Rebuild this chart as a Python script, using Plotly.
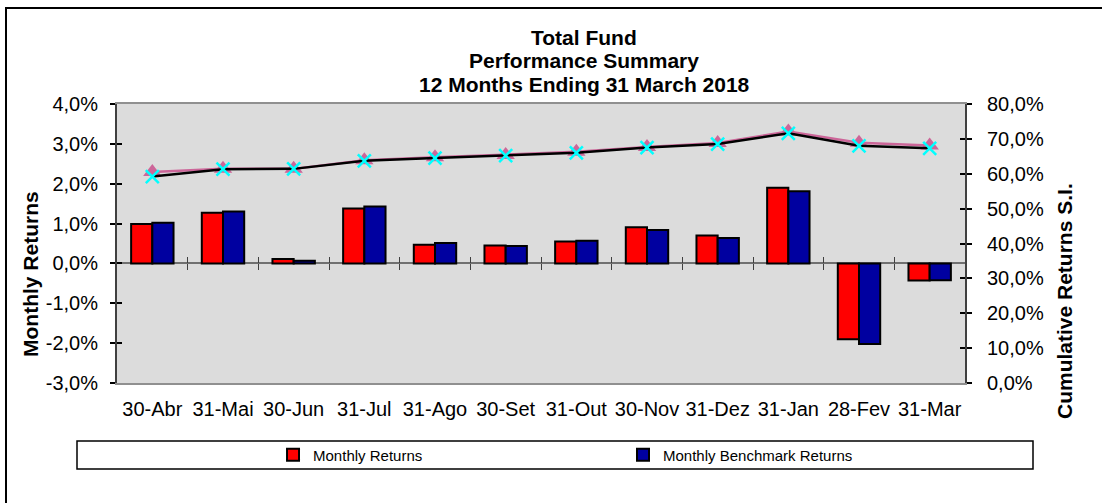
import plotly.graph_objects as go

categories = ["30-Abr", "31-Mai", "30-Jun", "31-Jul", "31-Ago", "30-Set",
              "31-Out", "30-Nov", "31-Dez", "31-Jan", "28-Fev", "31-Mar"]
monthly_returns = [0.99, 1.27, 0.11, 1.38, 0.47, 0.45, 0.55, 0.91, 0.70, 1.90, -1.90, -0.43]
benchmark_returns = [1.02, 1.30, 0.07, 1.43, 0.51, 0.44, 0.57, 0.84, 0.64, 1.81, -2.02, -0.42]
cumulative_fund = [60.5, 61.4, 61.4, 63.9, 64.7, 65.4, 66.3, 67.7, 68.8, 72.1, 68.9, 68.1]
cumulative_bench = [59.2, 61.3, 61.4, 63.7, 64.5, 65.2, 66.0, 67.5, 68.5, 71.6, 68.0, 67.3]

left_ticks = [-3, -2, -1, 0, 1, 2, 3, 4]
left_labels = ["-3,0%", "-2,0%", "-1,0%", "0,0%", "1,0%", "2,0%", "3,0%", "4,0%"]
right_ticks = [0, 10, 20, 30, 40, 50, 60, 70, 80]
right_labels = ["0,0%", "10,0%", "20,0%", "30,0%", "40,0%", "50,0%", "60,0%", "70,0%", "80,0%"]
title_lines = ["Total Fund", "Performance Summary", "12 Months Ending 31 March 2018"]

FONT = "Liberation Sans, Arial, sans-serif"

fig = go.Figure()
fig.add_trace(go.Bar(x=categories, y=monthly_returns, name="Monthly Returns",
                     marker=dict(color="#FF0000", line=dict(color="black", width=2)),
                     legend="legend", yaxis="y"))
fig.add_trace(go.Bar(x=categories, y=benchmark_returns, name="Monthly Benchmark Returns",
                     marker=dict(color="#0000A0", line=dict(color="black", width=2)),
                     legend="legend2", yaxis="y"))
fig.add_trace(go.Scatter(x=categories, y=cumulative_fund, yaxis="y2", mode="lines+markers",
                         line=dict(color="#CC6699", width=2.5),
                         marker=dict(symbol="triangle-up", size=16, color="#CC6699"),
                         showlegend=False))
fig.add_trace(go.Scatter(x=categories, y=cumulative_bench, yaxis="y2", mode="lines+markers",
                         line=dict(color="black", width=2.5),
                         marker=dict(symbol="x-thin", size=13, line=dict(color="#00FFFF", width=2.5)),
                         showlegend=False))
# empty helper traces so the tick-only overlay axes are rendered
for xa, ya in [("x2", "y"), ("x3", "y"), ("x", "y3"), ("x", "y4")]:
    fig.add_trace(go.Scatter(x=[], y=[], xaxis=xa, yaxis=ya, mode="markers",
                             showlegend=False, hoverinfo="skip"))

n = len(categories)
boundaries = [i + 0.5 for i in range(n - 1)]
zero_pos = (0 - left_ticks[0]) / (left_ticks[-1] - left_ticks[0])

tickfont = dict(family=FONT, size=20, color="black")

fig.update_layout(
    width=1102, height=503,
    margin=dict(l=117, r=137, t=104, b=120),
    paper_bgcolor="white", plot_bgcolor="#DCDCDC",
    barmode="group", bargap=0.4, bargroupgap=0,
    font=dict(family=FONT, color="black"),
    xaxis=dict(type="category", range=[-0.5, n - 0.5], tickangle=0, ticks="", tickfont=tickfont,
               showline=True, linecolor="#909090", linewidth=2, mirror=True,
               showgrid=False, ticklabelstandoff=7),
    xaxis2=dict(overlaying="x", anchor="free", position=zero_pos, range=[-0.5, n - 0.5],
                tickvals=boundaries, ticks="outside", ticklen=6, tickwidth=1.2, tickcolor="#404040",
                showticklabels=False, showgrid=False, zeroline=False, showline=False),
    xaxis3=dict(overlaying="x", anchor="free", position=zero_pos, range=[-0.5, n - 0.5],
                tickvals=boundaries, ticks="inside", ticklen=6, tickwidth=1.2, tickcolor="#404040",
                showticklabels=False, showgrid=False, zeroline=False, showline=False),
    yaxis=dict(range=[left_ticks[0], left_ticks[-1]], tickvals=left_ticks, ticktext=left_labels,
               ticks="outside", ticklen=5, tickwidth=1.5, tickcolor="black", tickfont=tickfont,
               showline=True, linecolor="#404040", linewidth=2, showgrid=False,
               zeroline=True, zerolinecolor="#707070", zerolinewidth=2, ticklabelstandoff=8),
    yaxis2=dict(overlaying="y", side="right", range=[right_ticks[0], right_ticks[-1]],
                tickvals=right_ticks, ticktext=right_labels,
                ticks="outside", ticklen=5, tickwidth=1.5, tickcolor="black", tickfont=tickfont,
                showline=True, linecolor="#404040", linewidth=2, showgrid=False, zeroline=False,
                ticklabelstandoff=11),
    yaxis3=dict(overlaying="y", side="left", anchor="x", range=[left_ticks[0], left_ticks[-1]],
                tickvals=left_ticks, ticks="inside", ticklen=5, tickwidth=1.5, tickcolor="black",
                showticklabels=False, showgrid=False, zeroline=False, showline=False),
    yaxis4=dict(overlaying="y", side="right", anchor="x", range=[right_ticks[0], right_ticks[-1]],
                tickvals=right_ticks, ticks="inside", ticklen=5, tickwidth=1.5, tickcolor="black",
                showticklabels=False, showgrid=False, zeroline=False, showline=False),
    legend=dict(orientation="h", x=0.184, y=-0.258, xanchor="left", yanchor="middle",
                bgcolor="rgba(0,0,0,0)", font=dict(family=FONT, size=15, color="black")),
    legend2=dict(orientation="h", x=0.5967, y=-0.258, xanchor="left", yanchor="middle",
                 bgcolor="rgba(0,0,0,0)", font=dict(family=FONT, size=15, color="black")),
    showlegend=True,
)

# legend frame and outer chart border
fig.add_shape(type="rect", xref="paper", yref="paper",
              x0=(77 - 117) / 848, x1=(1033 - 117) / 848,
              y0=(383 - 469) / 279, y1=(383 - 441) / 279,
              line=dict(color="black", width=1.5), fillcolor="rgba(0,0,0,0)", layer="below")
fig.add_shape(type="rect", xref="paper", yref="paper",
              x0=(6 - 117) / 848, x1=(1110 - 117) / 848,
              y0=(383 - 510) / 279, y1=(383 - 8) / 279,
              line=dict(color="black", width=2), fillcolor="rgba(0,0,0,0)", layer="below")

title_y = [37, 60.5, 84]
for txt, py in zip(title_lines, title_y):
    fig.add_annotation(text="<b>" + txt + "</b>", xref="paper", yref="paper",
                       x=(584 - 117) / 848, y=(383 - py) / 279, showarrow=False,
                       xanchor="center", yanchor="middle",
                       font=dict(family=FONT, size=21, color="black"))

fig.add_annotation(text="<b>Monthly Returns</b>", xref="paper", yref="paper",
                   x=(30 - 117) / 848, y=(383 - 274) / 279, textangle=-90, showarrow=False,
                   xanchor="center", yanchor="middle", font=dict(family=FONT, size=21, color="black"))
fig.add_annotation(text="<b>Cumulative Returns S.I.</b>", xref="paper", yref="paper",
                   x=(1064 - 117) / 848, y=(383 - 301) / 279, textangle=-90, showarrow=False,
                   xanchor="center", yanchor="middle", font=dict(family=FONT, size=21, color="black"))

fig.write_html("out.html", config={"displayModeBar": False},
               post_script="document.body.style.margin='0';document.body.style.overflow='hidden';")
